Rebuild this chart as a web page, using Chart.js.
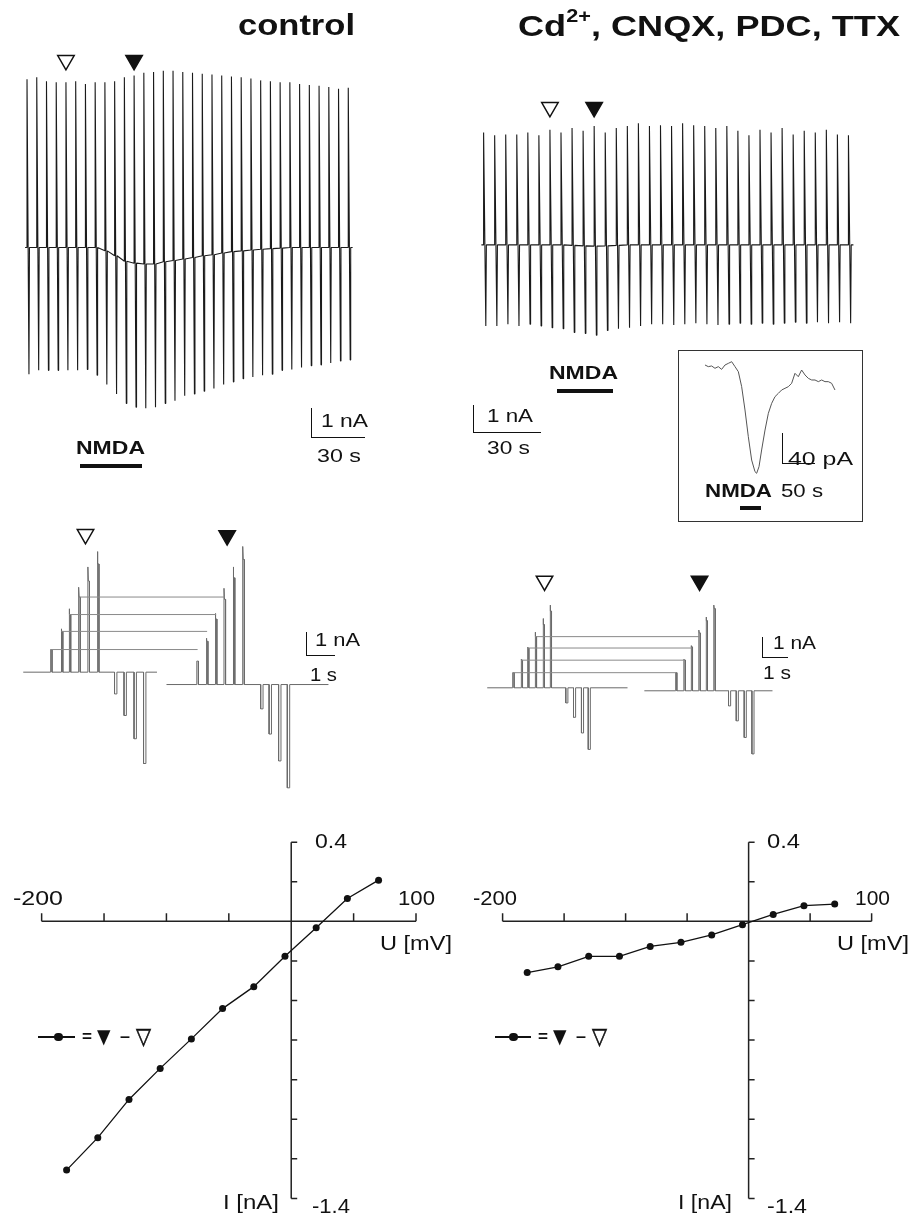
<!DOCTYPE html>
<html><head><meta charset="utf-8">
<script src="https://cdn.jsdelivr.net/npm/chart.js@4.4.1/dist/chart.umd.min.js"></script>
<style>
html,body{margin:0;padding:0;background:#fff}
body{position:relative;width:911px;height:1218px;overflow:hidden;font-family:"Liberation Sans",Arial,Helvetica,sans-serif;color:#111}
.box{position:absolute}
.box canvas{display:block}
.t{position:absolute;white-space:nowrap;line-height:1;transform-origin:0 0}
.t sup{font-size:0.6em;position:relative;top:-0.75em;vertical-align:baseline;line-height:0}
.bar{position:absolute;box-sizing:border-box;border-left:1.6px solid #111;border-bottom:1.6px solid #111}
.blk{position:absolute;background:#111}
.inset{position:absolute;box-sizing:border-box;border:1.6px solid #333}
</style></head><body>
<div class="box" style="left:0;top:40px"><canvas id="cA" width="380" height="400"></canvas></div>
<div class="box" style="left:460px;top:80px"><canvas id="cB" width="420" height="280"></canvas></div>
<div class="inset" style="left:678px;top:350px;width:185px;height:172px"></div>
<div class="box" style="left:680px;top:352px"><canvas id="cC" width="180" height="168"></canvas></div>
<div class="box" style="left:0;top:505px"><canvas id="cD" width="380" height="305"></canvas></div>
<div class="box" style="left:465px;top:555px"><canvas id="cE" width="340" height="225"></canvas></div>
<div class="box" style="left:0;top:820px"><canvas id="cF" width="460" height="398"></canvas></div>
<div class="box" style="left:460px;top:820px"><canvas id="cG" width="451" height="398"></canvas></div>

<!-- scale bars -->
<div class="bar" style="left:311px;top:408px;width:54px;height:30px"></div>
<div class="bar" style="left:473px;top:405px;width:68px;height:28px"></div>
<div class="bar" style="left:782px;top:433px;width:33px;height:31px"></div>
<div class="bar" style="left:306px;top:632px;width:29px;height:24px"></div>
<div class="bar" style="left:762px;top:637px;width:26px;height:21px"></div>
<!-- NMDA application bars -->
<div class="blk" style="left:80px;top:464px;width:62px;height:3.5px"></div>
<div class="blk" style="left:557px;top:389px;width:56px;height:3.5px"></div>
<div class="blk" style="left:740px;top:505.5px;width:21px;height:4px"></div>
<!-- legend symbols -->
<div class="blk" style="left:38px;top:1036px;width:37px;height:1.5px"></div>
<div class="blk" style="left:54px;top:1032.7px;width:8.5px;height:8.5px;border-radius:50%"></div>
<div class="blk" style="left:495px;top:1036px;width:36px;height:1.5px"></div>
<div class="blk" style="left:509px;top:1032.7px;width:8.5px;height:8.5px;border-radius:50%"></div>

<script>
// ---------- DATA ----------
// Top traces: current at each sweep (nA, relative to holding current before NMDA)
const ctrlSpikeTop    = [6.14,6.21,6.07,6.03,6.03,6.07,5.97,6.03,6.03,6.07,6.21,6.28,6.38,6.41,6.45,6.45,6.41,6.38,6.34,6.31,6.28,6.24,6.21,6.17,6.10,6.07,6.03,6.03,5.97,5.93,5.90,5.86,5.79,5.83];
const ctrlSpikeBottom = [-4.62,-4.48,-4.48,-4.48,-4.48,-4.48,-4.45,-4.66,-5.00,-5.34,-5.69,-5.83,-5.86,-5.83,-5.69,-5.59,-5.41,-5.34,-5.24,-5.14,-5.00,-4.90,-4.79,-4.72,-4.66,-4.62,-4.48,-4.45,-4.38,-4.31,-4.28,-4.21,-4.14,-4.10];
const ctrlHolding     = [0,0,0,0,0,0,0,0,-0.12,-0.30,-0.50,-0.57,-0.60,-0.60,-0.52,-0.47,-0.42,-0.36,-0.30,-0.26,-0.20,-0.15,-0.12,-0.09,-0.06,-0.04,-0.02,0,0,0,0,0,0,0];
const drugSpikeTop    = [4.52,4.41,4.44,4.44,4.52,4.41,4.63,4.52,4.70,4.59,4.78,4.52,4.70,4.78,4.89,4.78,4.81,4.78,4.89,4.81,4.78,4.70,4.78,4.59,4.41,4.63,4.52,4.70,4.44,4.59,4.52,4.63,4.44,4.41];
const drugSpikeBottom = [-3.26,-3.26,-3.19,-3.26,-3.19,-3.26,-3.33,-3.37,-3.52,-3.56,-3.63,-3.44,-3.37,-3.33,-3.26,-3.19,-3.19,-3.22,-3.19,-3.15,-3.19,-3.22,-3.19,-3.15,-3.19,-3.15,-3.19,-3.15,-3.11,-3.15,-3.11,-3.15,-3.11,-3.15];
const drugHolding     = [0,0,0,0,0,0,0,0,-0.02,-0.04,-0.05,-0.04,-0.02,0,0,0,0,0,0,0,0,0,0,0,0,0,0,0,0,0,0,0,0,0];
const ctrlMarkSweeps = [4, 11];   // open, filled triangle
const drugMarkSweeps = [6, 10];

// Inset: NMDA response (s, pA)
const insetTime    = [0,5.2,10.4,15.6,20.8,26,31.3,36.5,41.7,46.9,52.1,57.3,62.5,67.7,72.9,78.1,80.7,84.4,88.5,93.8,99,104.2,109.4,114.6,119.8,125,130.2,135.4,140.6,145.8,151,156.3,161.5,166.7,171.9,177.1,182.3,187.5,192.7,197.9,203.1];
const insetCurrent = [0,-2.2,-1.3,-4.4,-2.2,-5.8,0,2.2,4.4,-2.2,-8.9,-28.9,-60,-95.6,-126.7,-142.2,-144.4,-135.6,-113.3,-86.7,-64.4,-51.1,-42.2,-37.8,-33.3,-31.1,-28.9,-24.4,-11.1,-15.6,-6.7,-13.3,-17.8,-20,-20,-22.2,-20,-22.2,-22.2,-24.4,-33.3];

// Middle: voltage-step current responses (s, nA)
const cPreStepT  = [1.03,1.44,1.74,2.10,2.45,2.81];
const cPrePeak   = [1.06,2.03,2.97,3.98,4.93,5.65];
const cPrePlat   = [1.06,1.91,2.70,3.52,4.27,5.07];
const cPreNegT   = [3.46,3.82,4.20,4.56];
const cPreNeg    = [-1.02,-2.03,-3.12,-4.28];
const cNmdaStepT = [6.58,6.94,7.28,7.61,7.96,8.32];
const cNmdaPeak  = [1.10,2.17,3.33,4.51,5.51,6.47];
const cNmdaPlat  = [1.10,2.03,3.07,3.99,5.00,5.86];
const cNmdaNegT  = [9.00,9.32,9.68,10.01];
const cNmdaNeg   = [-1.14,-2.32,-3.58,-4.84];
const cMarkT     = [2.36, 7.73];

const dPreStepT  = [1.09,1.45,1.72,2.05,2.39,2.69];
const dPrePeak   = [0.81,1.53,2.17,2.98,3.71,4.43];
const dPrePlat   = [0.81,1.48,2.13,2.74,3.38,4.11];
const dPreNegT   = [3.36,3.69,4.03,4.32];
const dPreNeg    = [-0.81,-1.58,-2.42,-3.30];
const dNmdaStepT = [8.05,8.41,8.72,9.05,9.36,9.69];
const dNmdaPeak  = [0.97,1.69,2.42,3.25,3.95,4.59];
const dNmdaPlat  = [0.97,1.65,2.35,3.10,3.75,4.40];
const dNmdaNegT  = [10.32,10.65,10.99,11.32];
const dNmdaNeg   = [-0.81,-1.61,-2.50,-3.38];
const dMarkT     = [2.45, 9.08];

// Bottom: I-V of NMDA-induced current (filled minus open triangle)
const voltages  = [-180,-155,-130,-105,-80,-55,-30,-5,20,45,70];
const ivControl = [-1.257,-1.093,-0.900,-0.743,-0.594,-0.441,-0.330,-0.177,-0.033,0.115,0.208];
const ivDrugs   = [-0.259,-0.230,-0.177,-0.177,-0.127,-0.106,-0.069,-0.017,0.035,0.079,0.087];
const uTicks = [-200,-150,-100,-50,0,50,100];
const iTicks = [0.4,0.2,0,-0.2,-0.4,-0.6,-0.8,-1.0,-1.2,-1.4];

// ---------- HELPERS ----------
function makeChart(id, datasets, xr, yr, plugins){
  return new Chart(document.getElementById(id), {
    type:'scatter', data:{datasets},
    options:{responsive:false, animation:false, events:[], layout:{padding:0},
      plugins:{legend:{display:false}, tooltip:{enabled:false}},
      scales:{x:{type:'linear',display:false,min:xr[0],max:xr[1]},
              y:{type:'linear',display:false,min:yr[0],max:yr[1]}}},
    plugins: plugins||[]
  });
}
const lineDs=(data,color,width)=>({data, showLine:true, borderColor:color, borderWidth:width, pointRadius:0, fill:false, tension:0, spanGaps:false, borderJoinStyle:'bevel'});
const triDs=(pts,filled)=>({data:pts, showLine:false, pointStyle:'triangle', rotation:180, pointRadius:9.5,
  pointBackgroundColor:filled?'#111':'#fff', pointBorderColor:'#111', pointBorderWidth:1.5});

function spikeTrace(base, top, bottom){
  const pts=[{x:-0.2,y:base[0]}];
  for(let i=0;i<top.length;i++){
    pts.push({x:i,y:base[i]},{x:i,y:top[i]},{x:i+0.2,y:bottom[i]},{x:i+0.25,y:base[i]});
  }
  pts.push({x:top.length-0.55,y:base[base.length-1]});
  return pts;
}
function stepTrace(off, span, stepT, peak, plat, negT, neg){
  const w=0.06, wn=0.09, pts=[{x:span[0],y:off}];
  stepT.forEach((t,i)=>pts.push({x:t,y:off},{x:t,y:off+peak[i]},{x:t+0.02,y:off+plat[i]},{x:t+w,y:off+plat[i]},{x:t+w,y:off}));
  negT.forEach((t,i)=>pts.push({x:t,y:off},{x:t,y:off+neg[i]},{x:t+wn,y:off+neg[i]},{x:t+wn,y:off}));
  pts.push({x:span[1],y:off});
  return pts;
}
function guides(preT, prePlat, nmdaT){
  const pts=[];
  for(let i=0;i<4;i++){ pts.push({x:preT[i],y:prePlat[i]},{x:nmdaT[i]+0.03,y:prePlat[i]},{x:nmdaT[i]+0.03,y:null}); }
  return pts;
}

// ---------- TOP TRACES ----------
makeChart('cA', [
  lineDs(spikeTrace(ctrlHolding, ctrlSpikeTop, ctrlSpikeBottom), '#1a1a1a', 1.1),
  triDs([{x:ctrlMarkSweeps[0], y:6.83}], false),
  triDs([{x:ctrlMarkSweeps[1], y:6.83}], true)
], [-1.645, 35.13], [-6.621, 7.172]);

makeChart('cB', [
  lineDs(spikeTrace(drugHolding, drugSpikeTop, drugSpikeBottom), '#1a1a1a', 1.1),
  triDs([{x:drugMarkSweeps[0], y:5.53}], false),
  triDs([{x:drugMarkSweeps[1], y:5.53}], true)
], [-1.14, 34.86], [-4.185, 6.185]);

makeChart('cC', [
  lineDs(insetTime.map((t,i)=>({x:t,y:insetCurrent[i]})), '#555', 1)
], [-39.06, 242.19], [-206.67, 17.33]);

// ---------- MIDDLE TRACES ----------
makeChart('cD', [
  lineDs(guides(cPreStepT, cPrePlat, cNmdaStepT), '#8a8a8a', 1),
  lineDs(stepTrace(0, [0,5.07], cPreStepT, cPrePeak, cPrePlat, cPreNegT, cPreNeg), '#6a6a6a', 1),
  lineDs(stepTrace(-0.58, [5.43,11.57], cNmdaStepT, cNmdaPeak, cNmdaPlat, cNmdaNegT, cNmdaNeg), '#6a6a6a', 1),
  triDs([{x:cMarkT[0], y:6.46}], false),
  triDs([{x:cMarkT[1], y:6.40}], true)
], [-0.4643, 13.107], [-5.943, 7.317]);

makeChart('cE', [
  lineDs(guides(dPreStepT, dPrePlat, dNmdaStepT), '#8a8a8a', 1),
  lineDs(stepTrace(0, [0,6.0], dPreStepT, dPrePeak, dPrePlat, dPreNegT, dPreNeg), '#6a6a6a', 1),
  lineDs(stepTrace(-0.16, [6.72,12.2], dNmdaStepT, dNmdaPeak, dNmdaPlat, dNmdaNegT, dNmdaNeg), '#6a6a6a', 1),
  triDs([{x:dMarkT[0], y:5.72}], false),
  triDs([{x:dMarkT[1], y:5.72}], true)
], [-0.48, 13.12], [-4.348, 6.522]);

// ---------- I-V PLOTS ----------
const ivAxes = {id:'ivAxes', beforeDatasetsDraw(chart){
  const {ctx, scales:{x,y}} = chart;
  const x0=x.getPixelForValue(0), y0=y.getPixelForValue(0);
  ctx.save(); ctx.strokeStyle='#222'; ctx.lineWidth=1.5; ctx.beginPath();
  ctx.moveTo(x.getPixelForValue(uTicks[0]), y0); ctx.lineTo(x.getPixelForValue(uTicks[uTicks.length-1]), y0);
  uTicks.forEach(v=>{const p=x.getPixelForValue(v); ctx.moveTo(p,y0); ctx.lineTo(p,y0-8);});
  ctx.moveTo(x0, y.getPixelForValue(iTicks[0])); ctx.lineTo(x0, y.getPixelForValue(iTicks[iTicks.length-1]));
  iTicks.forEach(v=>{ if(v!==0){const p=y.getPixelForValue(v); ctx.moveTo(x0,p); ctx.lineTo(x0+6,p);} });
  ctx.stroke(); ctx.restore();
}};
const ivDs = vals => ({data:voltages.map((v,i)=>({x:v,y:vals[i]})), showLine:true, borderColor:'#111', borderWidth:1.3,
  pointRadius:3.5, pointBackgroundColor:'#111', pointBorderWidth:0, tension:0});
makeChart('cF', [ivDs(ivControl)], [-230.16, 132.05], [-1.4787, 0.4916], [ivAxes]);
makeChart('cG', [ivDs(ivDrugs)], [-231.38, 128.76], [-1.4787, 0.4916], [ivAxes]);

// ---------- TEXT ----------
function label(html, x, base, size, bold, w, font){
  const d=document.createElement('div'); d.className='t'; d.innerHTML=html;
  d.style.fontSize=size+'px'; if(bold) d.style.fontWeight='bold';
  if(font) d.style.fontFamily=font;
  document.body.appendChild(d);
  const nat=d.getBoundingClientRect().width;
  d.style.left=x+'px'; d.style.top=(base-0.8465*size)+'px';
  d.style.transform='scaleX('+(w/nat).toFixed(4)+')';
  return d;
}
label('control', 238, 35, 30, true, 117);
label('Cd<sup>2+</sup>, CNQX, PDC, TTX', 518, 36, 30, true, 382);
label('NMDA', 76, 455, 18.5, true, 69);
label('NMDA', 549, 380, 18.5, true, 69);
label('1 nA', 321, 428, 18.5, false, 47);
label('30 s', 317, 463, 18.5, false, 44);
label('1 nA', 487, 423, 18.5, false, 46);
label('30 s', 487, 455, 18.5, false, 43);
label('40 pA', 788, 465, 19, false, 65);
label('NMDA', 705, 498, 18.5, true, 67);
label('50 s', 781, 498, 18.5, false, 42);
label('1 nA', 315, 647, 18.5, false, 45);
label('1 s', 310, 682, 18.5, false, 27);
label('1 nA', 773, 650, 18.5, false, 43);
label('1 s', 763, 680, 18.5, false, 28);
label('-200', 13, 905, 21, false, 50);
label('100', 398, 905, 21, false, 37);
label('0.4', 315, 848, 21, false, 32);
label('-1.4', 312, 1213, 21, false, 38);
label('U [mV]', 380, 950, 21, false, 72);
label('I [nA]', 223, 1209, 21, false, 56);
label('-200', 473, 905, 21, false, 44);
label('100', 855, 905, 21, false, 35);
label('0.4', 767, 848, 21, false, 33);
label('-1.4', 767, 1213, 21, false, 40);
label('U [mV]', 837, 950, 21, false, 72);
label('I [nA]', 678, 1209, 21, false, 54);
// legend: "= ▼ – ▽"
[82, 538].forEach(x0=>{
  label('=', x0, 1042, 17, true, 10);
  label('▼', x0+15, 1043, 20, false, 13.5, '"DejaVu Sans",sans-serif');
  label('–', x0+38, 1042, 17, true, 10);
  const o = label('▽', x0+54, 1044.5, 23, false, 15, '"DejaVu Sans",sans-serif');
  o.style.webkitTextStroke='0.6px #111';
});
</script>
</body></html>
